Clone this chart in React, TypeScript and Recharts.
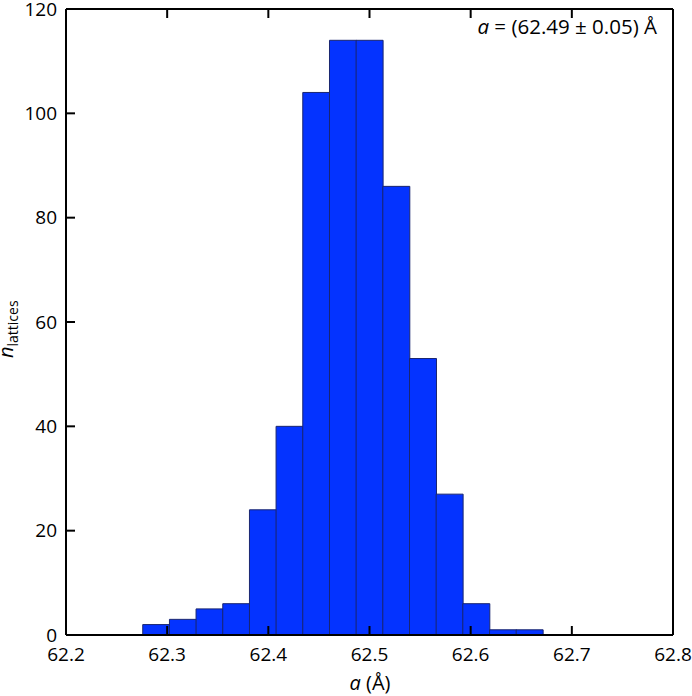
import React from "react";
import { Bar, BarChart, Customized, XAxis, YAxis } from "recharts";

// histogram bins (centres, Å) and counts
const binCenters = [
  62.289, 62.3154, 62.3417, 62.3681, 62.3945, 62.4208, 62.4472, 62.4736,
  62.4999, 62.5263, 62.5527, 62.579, 62.6054, 62.6318, 62.6581,
];
const counts = [2, 3, 5, 6, 24, 40, 104, 114, 114, 86, 53, 27, 6, 1, 1];

const xTicks = [62.2, 62.3, 62.4, 62.5, 62.6, 62.7, 62.8];
const yTicks = [0, 20, 40, 60, 80, 100, 120];

const data = binCenters.map((x, i) => ({ x, n: counts[i] }));

const FONT = "'Open Sans', sans-serif";
const TICK_LEN = 9;
const X_LABEL_GAP = 13;
const Y_LABEL_GAP = 9;
const frame = { stroke: "#000", strokeWidth: 2 };

// inward tick marks drawn by hand; the label sits outside the frame
function BottomTick(props: any) {
  const { x, y, payload } = props;
  const axisY = y - X_LABEL_GAP;
  return (
    <g>
      <line x1={x} x2={x} y1={axisY} y2={axisY - TICK_LEN} stroke="#000" strokeWidth={2} />
      <text x={x} y={y} dy="0.71em" textAnchor="middle" fontSize={19} fontFamily={FONT} fill="#000">
        {Number(payload.value).toFixed(1)}
      </text>
    </g>
  );
}

function TopTick(props: any) {
  const { x, y } = props;
  return <line x1={x} x2={x} y1={y} y2={y + TICK_LEN} stroke="#000" strokeWidth={2} />;
}

function LeftTick(props: any) {
  const { x, y, payload } = props;
  const axisX = x + Y_LABEL_GAP;
  return (
    <g>
      <line x1={axisX} x2={axisX + TICK_LEN} y1={y} y2={y} stroke="#000" strokeWidth={2} />
      <text x={x} y={y} dy="0.355em" textAnchor="end" fontSize={19} fontFamily={FONT} fill="#000">
        {payload.value}
      </text>
    </g>
  );
}

function RightTick(props: any) {
  const { x, y } = props;
  return <line x1={x} x2={x - TICK_LEN} y1={y} y2={y} stroke="#000" strokeWidth={2} />;
}

function Labels() {
  return (
    <g fontFamily={FONT} fill="#000">
      <text x={657} y={34} fontSize={20.5} textAnchor="end">
        <tspan fontStyle="italic">a</tspan> = (62.49 ± 0.05) Å
      </text>
      <text x={370} y={690} fontSize={20} textAnchor="middle">
        <tspan fontStyle="italic">a</tspan> (Å)
      </text>
      <text x={13} y={358} transform="rotate(-90, 13, 358)">
        <tspan fontSize={20} fontStyle="italic">n</tspan>
        <tspan fontSize={14} dy={5}>lattices</tspan>
      </text>
    </g>
  );
}

export default function App() {
  return (
    <div style={{ position: "absolute", left: 0, top: 0, background: "#fff" }}>
      <BarChart
        width={692}
        height={696}
        data={data}
        margin={{ top: 8, right: 18, left: 0, bottom: 0 }}
        barCategoryGap={0}
        barGap={0}
      >
        <Bar
          dataKey="n"
          fill="#0433ff"
          stroke="#1a2670"
          strokeWidth={1}
          isAnimationActive={false}
        />
        <XAxis
          dataKey="x"
          type="number"
          domain={[62.2, 62.8]}
          ticks={xTicks}
          allowDataOverflow
          height={61}
          tickSize={0}
          tickMargin={X_LABEL_GAP}
          tickLine={false}
          tick={<BottomTick />}
          axisLine={frame}
        />
        <XAxis
          xAxisId="top"
          orientation="top"
          dataKey="x"
          type="number"
          domain={[62.2, 62.8]}
          ticks={xTicks}
          allowDataOverflow
          height={1}
          tickSize={0}
          tickMargin={0}
          tickLine={false}
          tick={<TopTick />}
          axisLine={frame}
        />
        <YAxis
          domain={[0, 120]}
          ticks={yTicks}
          width={66}
          tickSize={0}
          tickMargin={Y_LABEL_GAP}
          tickLine={false}
          tick={<LeftTick />}
          axisLine={frame}
        />
        <YAxis
          yAxisId="right"
          orientation="right"
          domain={[0, 120]}
          ticks={yTicks}
          width={1}
          tickSize={0}
          tickMargin={0}
          tickLine={false}
          tick={<RightTick />}
          axisLine={frame}
        />
        <Customized component={Labels} />
      </BarChart>
    </div>
  );
}
